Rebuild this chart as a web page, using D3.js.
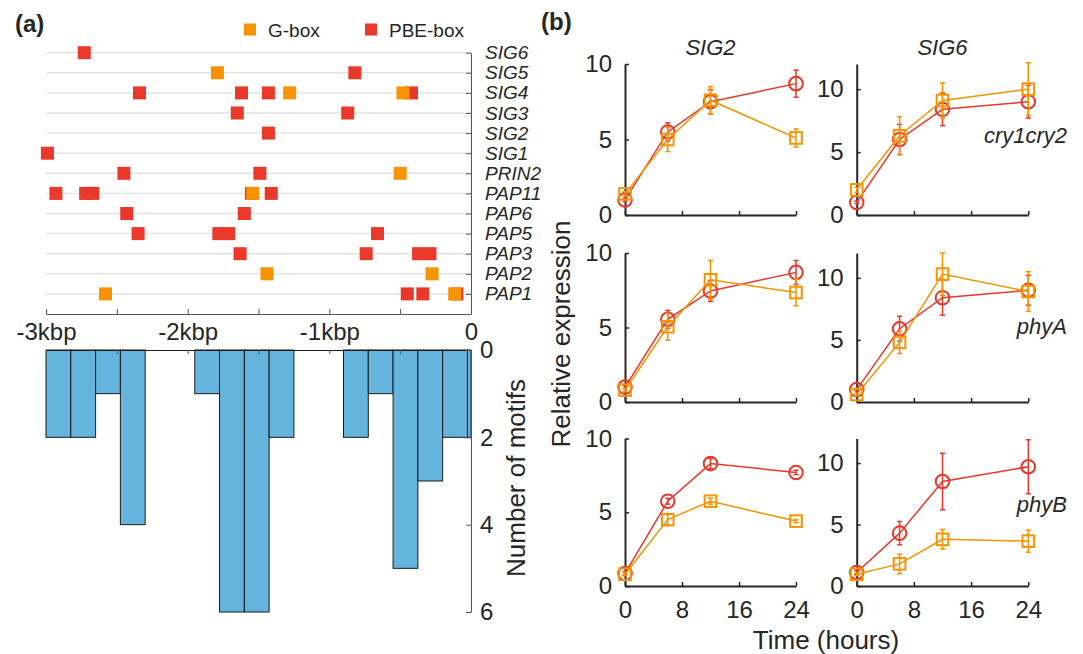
<!DOCTYPE html>
<html>
<head>
<meta charset="utf-8">
<script src="https://cdn.jsdelivr.net/npm/d3@7"></script>
<style>
  body { margin: 0; background: #fff; }
  svg { font-family: "Liberation Sans", Arial, Helvetica, sans-serif; }
  text { fill: #262626; }
</style>
</head>
<body>
<svg id="fig" width="1083" height="654"></svg>
<script>
// ---------- panel (a): motif positions upstream of each gene (kbp) ----------
const genes = ['SIG6', 'SIG5', 'SIG4', 'SIG3', 'SIG2', 'SIG1', 'PRIN2', 'PAP11', 'PAP6', 'PAP5', 'PAP3', 'PAP2', 'PAP1'];

const pbeSites = [
  ['SIG6', -2.73],
  ['SIG5', -0.82],
  ['SIG4', -2.34], ['SIG4', -1.62], ['SIG4', -1.43], ['SIG4', -0.42],
  ['SIG3', -1.65], ['SIG3', -0.87],
  ['SIG2', -1.43],
  ['SIG1', -2.99],
  ['PRIN2', -2.45], ['PRIN2', -1.49],
  ['PAP11', -2.93], ['PAP11', -2.72], ['PAP11', -2.67], ['PAP11', -1.55], ['PAP11', -1.41],
  ['PAP6', -2.43], ['PAP6', -1.60],
  ['PAP5', -2.35], ['PAP5', -1.78], ['PAP5', -1.71], ['PAP5', -0.66],
  ['PAP3', -1.63], ['PAP3', -0.74], ['PAP3', -0.37], ['PAP3', -0.29],
  ['PAP1', -0.45], ['PAP1', -0.34], ['PAP1', -0.10]
];

const gboxSites = [
  ['SIG5', -1.79],
  ['SIG4', -1.28], ['SIG4', -0.48],
  ['PRIN2', -0.50],
  ['PAP11', -1.54],
  ['PAP2', -1.44], ['PAP2', -0.275],
  ['PAP1', -2.58], ['PAP1', -0.115]
];

const kbpTicks = [-3, -2.5, -2, -1.5, -1, -0.5, 0];
const kbpLabels = ['-3kbp', '', '-2kbp', '', '-1kbp', '', '0'];

// histogram of motifs, 175 bp bins starting at -3 kbp (last bin is partial)
const binWidth = 0.175;
const motifCounts = [2, 2, 1, 4, 0, 0, 1, 6, 6, 2, 0, 0, 2, 1, 5, 3, 2, 2];
const countTicks = [0, 2, 4, 6];

// ---------- panel (b): relative expression time course ----------
const hours = [0, 6, 12, 24];
const hourTicks = [0, 8, 16, 24];
const sigGenes = ['SIG2', 'SIG6'];
const mutants = ['cry1cry2', 'phyA', 'phyB'];

// rows: cry1cry2, phyA, phyB
const sig2Red = [[1.0, 5.5, 7.5, 8.7], [1.0, 5.55, 7.45, 8.7], [0.85, 5.75, 8.3, 7.7]];
const sig2RedErr = [[0.1, 0.6, 0.8, 0.9], [0.1, 0.6, 0.7, 0.8], [0.1, 0.2, 0.35, 0.15]];
const sig2Orange = [[1.4, 5.0, 7.6, 5.1], [0.8, 5.05, 8.2, 7.35], [0.8, 4.5, 5.75, 4.4]];
const sig2OrangeErr = [[0.15, 0.8, 0.9, 0.6], [0.1, 0.9, 1.3, 0.9], [0.1, 0.35, 0.2, 0.1]];

const sig6Red = [[1.0, 6.0, 8.4, 9.0], [1.0, 5.9, 8.4, 9.0], [1.1, 4.3, 8.5, 9.7]];
const sig6RedErr = [[0.1, 1.2, 1.3, 1.3], [0.1, 1.0, 1.4, 1.2], [0.15, 0.95, 2.3, 2.2]];
const sig6Orange = [[2.0, 6.3, 9.1, 10.0], [0.6, 4.8, 10.3, 8.9], [0.95, 1.8, 3.8, 3.65]];
const sig6OrangeErr = [[0.2, 1.5, 1.4, 2.1], [0.1, 0.9, 1.7, 1.6], [0.1, 0.8, 0.8, 0.9]];

const yMax = [10, 12];
const yTicks = [0, 5, 10];

const RED = '#e8392b';
const ORANGE = '#f59300';
const BLUE = '#64b4de';

const svg = d3.select('#fig');

// ================= panel (a) =================
const motifX = d3.scaleLinear().domain([-3, 0]).range([46, 471]);
const rowY = d3.scaleLinear().domain([0, genes.length]).range([314, 52.7]);
const geneRow = (g) => genes.length - genes.indexOf(g);

svg.append('text').attr('x', 15).attr('y', 32)
  .style('font-size', '24px').style('font-weight', 'bold').text('(a)');

// gridlines
svg.append('g').selectAll('line').data(genes).join('line')
  .attr('x1', motifX(-3)).attr('x2', motifX(0))
  .attr('y1', (d) => rowY(geneRow(d))).attr('y2', (d) => rowY(geneRow(d)))
  .attr('stroke', '#e3e3e3').attr('stroke-width', 1.5);

// right axis with gene names
const geneAxis = svg.append('g')
  .attr('transform', `translate(${motifX(0)},0)`)
  .call(d3.axisRight(rowY)
    .tickValues(d3.range(1, genes.length + 1))
    .tickFormat((v) => genes[genes.length - v])
    .tickSizeInner(-5).tickSizeOuter(0).tickPadding(14));
geneAxis.selectAll('text').style('font-size', '19px').style('font-style', 'italic');

// bottom kbp axis
const kbpAxis = svg.append('g')
  .attr('transform', `translate(0,${rowY(0)})`)
  .call(d3.axisBottom(motifX)
    .tickValues(kbpTicks)
    .tickFormat((v, i) => kbpLabels[i])
    .tickSizeInner(-5).tickSizeOuter(0).tickPadding(9));
kbpAxis.selectAll('text').style('font-size', '24px');

[geneAxis, kbpAxis].forEach((ax) => {
  ax.select('.domain').attr('stroke', '#555');
  ax.selectAll('.tick line').attr('stroke', '#555');
});

// motif squares (PBE first, G-box on top)
const sq = 13;
svg.append('g').selectAll('rect').data(pbeSites).join('rect')
  .attr('x', (d) => motifX(d[1]) - sq / 2)
  .attr('y', (d) => rowY(geneRow(d[0])) - sq / 2)
  .attr('width', sq).attr('height', sq).attr('fill', RED);
svg.append('g').selectAll('rect').data(gboxSites).join('rect')
  .attr('x', (d) => motifX(d[1]) - sq / 2)
  .attr('y', (d) => rowY(geneRow(d[0])) - sq / 2)
  .attr('width', sq).attr('height', sq).attr('fill', ORANGE);

// legend
const legend = svg.append('g').style('font-size', '19px');
[['G-box', ORANGE, 244], ['PBE-box', RED, 365]].forEach(([name, col, lx]) => {
  legend.append('rect').attr('x', lx).attr('y', 23.5).attr('width', 12).attr('height', 12).attr('fill', col);
  legend.append('text').attr('x', lx + 24).attr('y', 36.5).text(name);
});

// histogram
const histY = d3.scaleLinear().domain([0, 6]).range([350, 612]);
const bins = motifCounts.map((c, i) => {
  const x0 = -3 + i * binWidth;
  return { x0: x0, x1: Math.min(x0 + binWidth, 0), count: c };
});

svg.append('g').selectAll('rect').data(bins.filter((b) => b.count > 0)).join('rect')
  .attr('x', (d) => motifX(d.x0))
  .attr('y', histY(0))
  .attr('width', (d) => motifX(d.x1) - motifX(d.x0))
  .attr('height', (d) => histY(d.count) - histY(0))
  .attr('fill', BLUE).attr('stroke', '#1a1a1a').attr('stroke-width', 1);

const histTop = svg.append('g')
  .attr('transform', `translate(0,${histY(0)})`)
  .call(d3.axisTop(motifX).tickValues(kbpTicks).tickFormat('')
    .tickSizeInner(-4).tickSizeOuter(0));
histTop.select('.domain').attr('stroke', '#1a1a1a');
histTop.selectAll('.tick line').attr('stroke', '#555');

const histAxis = svg.append('g')
  .attr('transform', `translate(${motifX(0)},0)`)
  .call(d3.axisRight(histY).tickValues(countTicks).tickFormat(d3.format('d'))
    .tickSizeInner(-5).tickSizeOuter(0).tickPadding(9));
histAxis.selectAll('text').style('font-size', '24px');
histAxis.select('.domain').attr('stroke', '#555');
histAxis.selectAll('.tick line').attr('stroke', '#555');

svg.append('text')
  .attr('transform', 'translate(516,478) rotate(-90)')
  .attr('text-anchor', 'middle').attr('dy', '0.35em')
  .style('font-size', '26px').text('Number of motifs');

// ================= panel (b) =================
svg.append('text').attr('x', 541).attr('y', 30)
  .style('font-size', '24px').style('font-weight', 'bold').text('(b)');

const cols = [{ x0: 625, x1: 796 }, { x0: 856.7, x1: 1028.3 }];
const rows = [{ top: 64, bottom: 215 }, { top: 253, bottom: 402 }, { top: 438.5, bottom: 586 }];
const series = [
  [sig2Red, sig2RedErr, sig2Orange, sig2OrangeErr],
  [sig6Red, sig6RedErr, sig6Orange, sig6OrangeErr]
];

cols.forEach((col, c) => {
  const x = d3.scaleLinear().domain([0, 24]).range([col.x0, col.x1]);

  // column title
  svg.append('text')
    .attr('x', (col.x0 + col.x1) / 2).attr('y', 55)
    .attr('text-anchor', 'middle')
    .style('font-size', '22px').style('font-style', 'italic')
    .text(sigGenes[c]);

  rows.forEach((row, r) => {
    const y = d3.scaleLinear().domain([0, yMax[c]]).range([row.bottom, row.top]);
    const g = svg.append('g');

    const yAxis = g.append('g')
      .attr('transform', `translate(${col.x0},0)`)
      .call(d3.axisLeft(y).tickValues(yTicks)
        .tickSizeInner(-4).tickSizeOuter(0).tickPadding(13));
    const xAxis = g.append('g')
      .attr('transform', `translate(0,${row.bottom})`)
      .call(d3.axisBottom(x).tickValues(hourTicks)
        .tickFormat(r === rows.length - 1 ? d3.format('d') : '')
        .tickSizeInner(-4).tickSizeOuter(0).tickPadding(15));
    [yAxis, xAxis].forEach((ax) => {
      ax.select('.domain').attr('stroke', '#262626').attr('stroke-width', 2);
      ax.selectAll('.tick line').attr('stroke', '#262626').attr('stroke-width', 1.5);
      ax.selectAll('text').style('font-size', '24px');
    });

    const [redM, redE, orM, orE] = series[c];
    const sets = [
      { m: redM[r], e: redE[r], color: RED, shape: 'circle' },
      { m: orM[r], e: orE[r], color: ORANGE, shape: 'square' }
    ];
    const line = d3.line().x((d, i) => x(hours[i])).y((d) => y(d));

    sets.forEach((s) => {
      const pts = s.m.map((v, i) => ({ t: hours[i], v: v, e: s.e[i] }));
      g.append('path').datum(s.m).attr('d', line)
        .attr('fill', 'none').attr('stroke', s.color).attr('stroke-width', 1.5);

      // error bars
      const eb = g.append('g').attr('stroke', s.color).attr('stroke-width', 1.5);
      pts.forEach((p) => {
        const cx = x(p.t);
        const yt = Math.max(y(p.v + p.e), row.top - 3);
        const yb = y(p.v - p.e);
        eb.append('line').attr('x1', cx).attr('x2', cx).attr('y1', yt).attr('y2', yb);
        eb.append('line').attr('x1', cx - 2.5).attr('x2', cx + 2.5).attr('y1', yt).attr('y2', yt);
        eb.append('line').attr('x1', cx - 2.5).attr('x2', cx + 2.5).attr('y1', yb).attr('y2', yb);
      });

      if (s.shape === 'circle') {
        g.append('g').selectAll('circle').data(pts).join('circle')
          .attr('cx', (p) => x(p.t)).attr('cy', (p) => y(p.v)).attr('r', 6.8)
          .attr('fill', 'none').attr('stroke', s.color).attr('stroke-width', 2);
      } else {
        g.append('g').selectAll('rect').data(pts).join('rect')
          .attr('x', (p) => x(p.t) - 5.8).attr('y', (p) => y(p.v) - 5.8)
          .attr('width', 11.6).attr('height', 11.6)
          .attr('fill', 'none').attr('stroke', s.color).attr('stroke-width', 2);
      }
    });

    if (c === 1) {
      const labelY = [143, 334, 512];
      svg.append('text')
        .attr('x', 1067).attr('y', labelY[r])
        .attr('text-anchor', 'end')
        .style('font-size', '22px').style('font-style', 'italic')
        .text(mutants[r]);
    }
  });
});

svg.append('text')
  .attr('transform', 'translate(561,334) rotate(-90)')
  .attr('text-anchor', 'middle').attr('dy', '0.35em')
  .style('font-size', '26px').text('Relative expression');

svg.append('text')
  .attr('x', 826).attr('y', 649)
  .attr('text-anchor', 'middle')
  .style('font-size', '26px').text('Time (hours)');
</script>
</body>
</html>
